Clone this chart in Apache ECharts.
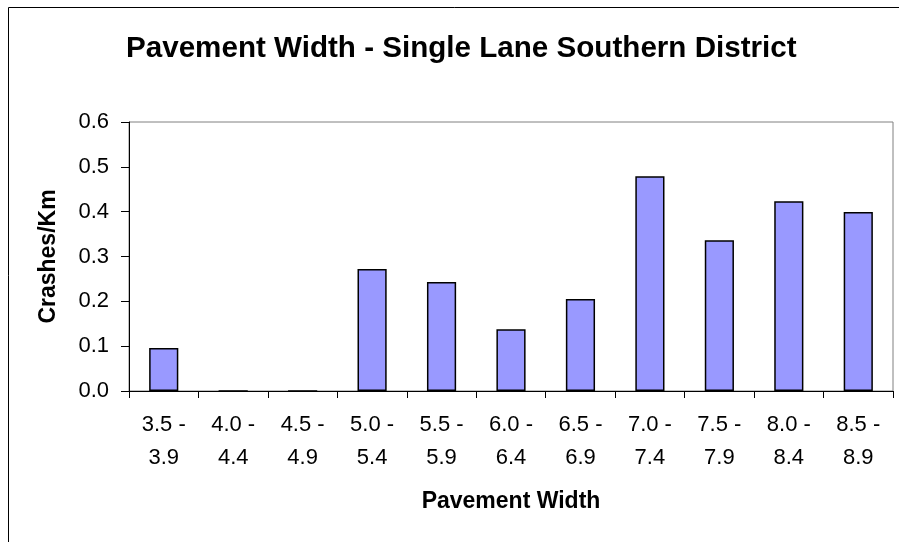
<!DOCTYPE html>
<html>
<head>
<meta charset="utf-8">
<script src="https://cdn.jsdelivr.net/npm/echarts@6/dist/echarts.min.js"></script>
<style>
  html, body { margin: 0; padding: 0; background: #ffffff; }
  #chart { width: 899px; height: 542px; }
</style>
</head>
<body>
<div id="chart"></div>
<script>
// Pavement width bands (metres)
const categories = ['3.5 - 3.9', '4.0 - 4.4', '4.5 - 4.9', '5.0 - 5.4', '5.5 - 5.9', '6.0 - 6.4',
                    '6.5 - 6.9', '7.0 - 7.4', '7.5 - 7.9', '8.0 - 8.4', '8.5 - 8.9'];
// Crash rate per kilometre for each band
const crashesPerKm = [0.096, 0, 0, 0.272, 0.243, 0.138, 0.205, 0.479, 0.336, 0.423, 0.399];
// Value axis range
const yMin = 0;
const yMax = 0.6;
const yStep = 0.1;

const chart = echarts.init(document.getElementById('chart'), null, { renderer: 'canvas' });
const font = 'Liberation Sans, Arial, Helvetica, sans-serif';

chart.setOption({
  backgroundColor: '#ffffff',
  animation: false,
  title: {
    text: 'Pavement Width - Single Lane Southern District',
    left: 121,
    top: 29,
    textStyle: { fontFamily: font, fontSize: 29.6, fontWeight: 'bold', color: '#000000' }
  },
  graphic: [{
    type: 'rect',
    shape: { x: 8.5, y: 7.5, width: 1000, height: 1000 },
    style: { fill: 'none', stroke: '#000000', lineWidth: 1 },
    silent: true
  }],
  grid: {
    left: 129, top: 122, right: 6, bottom: 151,
    show: true, borderColor: '#808080', borderWidth: 1, backgroundColor: 'transparent'
  },
  xAxis: {
    type: 'category',
    data: categories,
    name: 'Pavement Width',
    nameLocation: 'middle',
    nameGap: 99,
    nameTextStyle: { fontFamily: font, fontSize: 23, fontWeight: 'bold', color: '#000000' },
    axisLine: { lineStyle: { color: '#000000', width: 1 } },
    axisTick: { show: true, length: 7, lineStyle: { color: '#000000' } },
    axisLabel: {
      interval: 0,
      margin: 17,
      fontFamily: font,
      fontSize: 22,
      lineHeight: 33,
      color: '#000000',
      formatter: v => v.replace(' - ', ' -\n')
    },
    splitLine: { show: false }
  },
  yAxis: {
    type: 'value',
    min: yMin,
    max: yMax,
    interval: yStep,
    name: 'Crashes/Km',
    nameLocation: 'middle',
    nameRotate: 90,
    nameGap: 69,
    nameTextStyle: { fontFamily: font, fontSize: 23, fontWeight: 'bold', color: '#000000' },
    axisLine: { show: true, lineStyle: { color: '#000000', width: 1 } },
    axisTick: { show: true, length: 8, lineStyle: { color: '#000000' } },
    axisLabel: {
      margin: 20,
      fontFamily: font,
      fontSize: 22,
      color: '#000000',
      formatter: v => v.toFixed(1)
    },
    splitLine: { show: false }
  },
  series: [{
    type: 'bar',
    data: crashesPerKm,
    barCategoryGap: '58%',
    itemStyle: { color: '#9999FF', borderColor: '#000000', borderWidth: 1.5 }
  }]
});
</script>
</body>
</html>
